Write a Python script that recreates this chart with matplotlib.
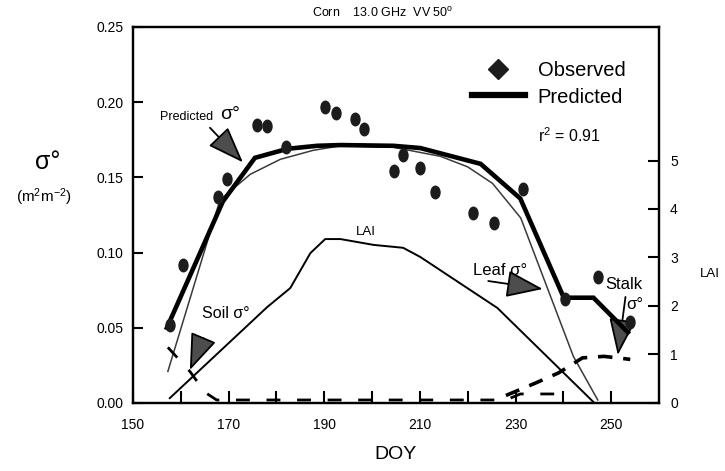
import matplotlib
matplotlib.use("Agg")
import matplotlib.pyplot as plt
from matplotlib.path import Path
from matplotlib.lines import Line2D
import numpy as np

plt.rcParams["font.family"] = ["Liberation Sans", "DejaVu Sans"]
plt.rcParams["mathtext.fontset"] = "custom"
plt.rcParams["mathtext.rm"] = "Liberation Sans"
plt.rcParams["mathtext.it"] = "Liberation Sans:italic"

# -----------------------------
# Data
# -----------------------------
obs_doy = [157.7, 160.5, 167.8, 169.7, 176.0, 178.0, 182.0, 190.2, 192.5, 196.5,
           198.4, 204.5, 206.5, 210.1, 213.2, 221.2, 225.4, 231.5, 240.3, 247.2, 253.9]
obs_sigma = [0.052, 0.092, 0.137, 0.149, 0.185, 0.184, 0.170, 0.197, 0.193, 0.189,
             0.182, 0.154, 0.165, 0.156, 0.140, 0.126, 0.120, 0.142, 0.069, 0.084, 0.054]

pred_doy = [157.1, 168.8, 175.5, 182.3, 188.5, 193.4, 204.5, 210.1, 214.3, 222.7,
            231.0, 240.1, 246.3, 253.5]
pred_sigma = [0.050, 0.134, 0.163, 0.169, 0.171, 0.1715, 0.171, 0.1695, 0.166, 0.159,
              0.136, 0.070, 0.070, 0.047]

leaf_doy = [157.3, 168.2, 174.5, 180.8, 187.7, 193.4, 204.5, 214.3, 220.0, 225.2,
            231.1, 242.1, 247.2]
leaf_sigma = [0.021, 0.135, 0.152, 0.162, 0.168, 0.171, 0.170, 0.164, 0.157, 0.146,
              0.123, 0.031, 0.002]

soil_doy = [157.3, 161.9, 165.1, 167.5, 228.0, 231.0, 240.0]
soil_sigma = [0.037, 0.021, 0.007, 0.002, 0.002, 0.006, 0.006]

stalk_doy = [228.0, 234.0, 239.0, 244.0, 248.5, 254.0]
stalk_sigma = [0.005, 0.013, 0.020, 0.030, 0.031, 0.029]

lai_doy = [157.7, 178.1, 182.9, 187.1, 190.2, 193.4, 200.3, 206.5, 210.1, 226.2, 246.3]
lai = [0.1, 1.98, 2.37, 3.09, 3.38, 3.38, 3.26, 3.20, 3.01, 1.96, 0.02]

x_ticks_major = [150, 170, 190, 210, 230, 250]
x_ticks_minor = [160, 180, 200, 220, 240]
y_ticks = [0.00, 0.05, 0.10, 0.15, 0.20, 0.25]
lai_ticks = [0, 1, 2, 3, 4, 5]

# oval marker for the observed points
circle = Path.unit_circle()
oval = Path(circle.vertices * np.array([0.72, 1.0]), circle.codes)

# -----------------------------
# Figure
# -----------------------------
fig = plt.figure(figsize=(7.25, 4.71), dpi=100)
ax = fig.add_axes([0.1834, 0.1444, 0.7255, 0.7983])
ax2 = ax.twinx()

ax.plot(leaf_doy, leaf_sigma, color="#3a3a3a", lw=1.1, zorder=3)
ax.plot(soil_doy, soil_sigma, color="black", lw=2, dashes=(5, 6), zorder=3)
ax.plot(stalk_doy, stalk_sigma, color="black", lw=2.6, dashes=(4, 3), zorder=3)
ax.plot(pred_doy, pred_sigma, color="black", lw=3.3, solid_joinstyle="miter", zorder=4)
ax.plot(obs_doy, obs_sigma, linestyle="none", marker=oval, ms=9,
        color="#1c1c1c", mec="#1c1c1c", zorder=5)

ax2.plot(lai_doy, lai, color="black", lw=1.4)

# axes
ax.set_xlim(150, 260)
ax.set_ylim(0, 0.25)
ax2.set_ylim(0, 7.753)

ax.set_xticks(x_ticks_major)
ax.set_xticks(x_ticks_minor, minor=True)
ax.set_yticks(y_ticks)
ax.set_yticklabels([f"{v:.2f}" for v in y_ticks])
ax2.set_yticks(lai_ticks)

ax.tick_params(axis="x", which="both", direction="in", length=9, width=1.5,
               labelsize=10, pad=11)
ax.tick_params(axis="y", direction="in", length=7, width=1.5, labelsize=10, pad=7)
ax2.tick_params(axis="y", direction="in", length=8, width=1.5, labelsize=10, pad=8)

for a in (ax, ax2):
    for sp in a.spines.values():
        sp.set_linewidth(1.6)

ax.set_xlabel("DOY", fontsize=14, labelpad=10)
ax2.set_ylabel("LAI", rotation=0, fontsize=9.5)
ax2.yaxis.set_label_coords(1.097, 0.36)

fig.text(0.066, 0.655, "σ°", fontsize=18, ha="center", va="center")
fig.text(0.06, 0.582, r"(m$^{2}$m$^{-2}$)", fontsize=11, ha="center", va="center")

ax.set_title(r"Corn    13.0 GHz  VV 50$^{\rm o}$", fontsize=9, pad=7, x=0.475)

# legend
handles = [
    Line2D([], [], linestyle="none", marker="D", ms=10, color="#1c1c1c"),
    Line2D([], [], color="black", lw=4.5),
]
ax.legend(handles, ["Observed", "Predicted"], loc="upper left",
          bbox_to_anchor=(0.626, 0.935), frameon=False, fontsize=14.5,
          handlelength=2.6, handletextpad=0.65, labelspacing=0.35, borderpad=0)
ax.text(234.8, 0.178, r"r$^{2}$ = 0.91", fontsize=11.5, ha="left", va="center")

# annotations
arrow = dict(arrowstyle="-|>,head_length=2.3,head_width=0.85", fc="#4d4d4d",
             ec="black", lw=1.3, shrinkA=0, shrinkB=0, mutation_scale=10)

ax.text(155.7, 0.190, "Predicted", fontsize=9, ha="left", va="center")
ax.text(168.3, 0.192, "σ°", fontsize=14, ha="left", va="center")
ax.annotate("", xy=(173.0, 0.160), xytext=(166.1, 0.183), arrowprops=arrow)

ax.text(164.5, 0.0598, "Soil σ°", fontsize=11.5, ha="left", va="center")
ax.annotate("", xy=(161.9, 0.0219), xytext=(164.7, 0.0432), arrowprops=arrow)

ax.text(198.8, 0.1137, "LAI", fontsize=9.5, ha="center", va="center")

ax.text(221.2, 0.0884, "Leaf σ°", fontsize=12, ha="left", va="center")
ax.annotate("", xy=(235.7, 0.0758), xytext=(224.3, 0.0811), arrowprops=arrow)

ax.text(248.8, 0.0785, "Stalk", fontsize=12, ha="left", va="center")
ax.text(253.2, 0.0655, "σ°", fontsize=12, ha="left", va="center")
ax.annotate("", xy=(251.4, 0.0319), xytext=(253.0, 0.0705), arrowprops=arrow)

fig.savefig("out.png", dpi=100)
